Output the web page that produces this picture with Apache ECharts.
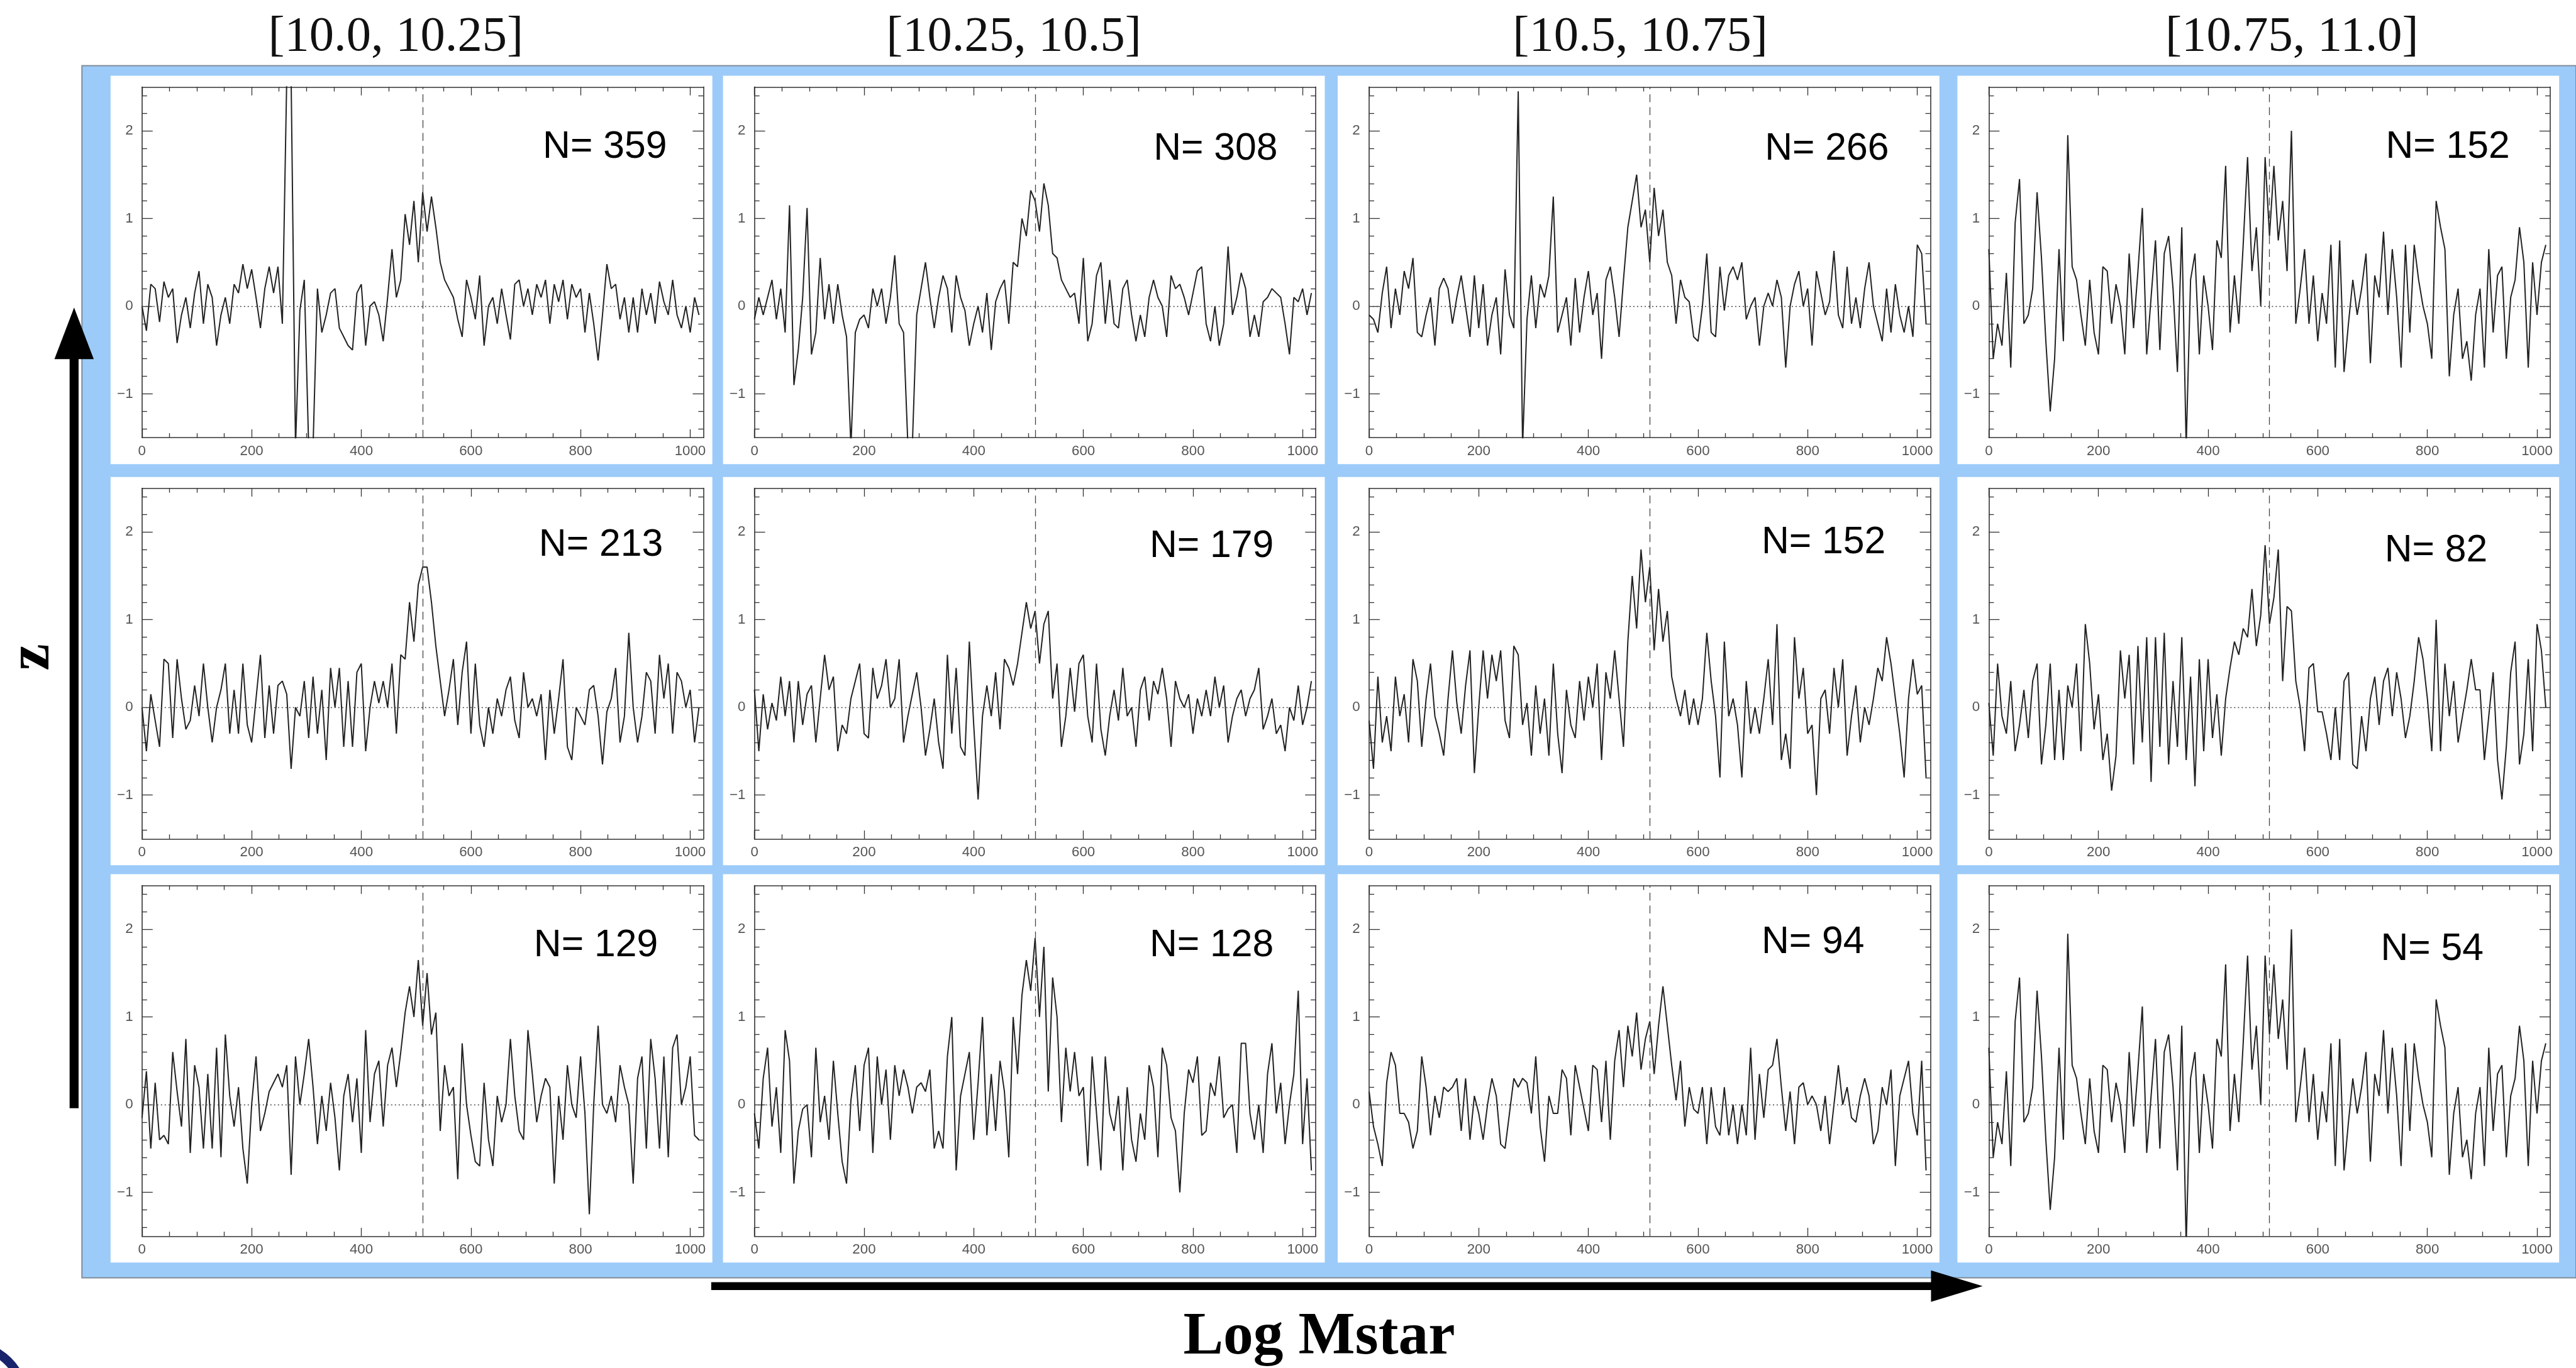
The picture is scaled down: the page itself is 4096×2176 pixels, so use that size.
<!DOCTYPE html>
<html>
<head>
<meta charset="utf-8">
<script src="https://cdn.jsdelivr.net/npm/echarts@6/dist/echarts.min.js"></script>
<style>
html,body{margin:0;padding:0;background:#ffffff;}
#chart{width:4096px;height:2176px;}
</style>
</head>
<body>
<div id="chart"></div>
<script>
// ---------------- data ----------------
const massBins = ['[10.0, 10.25]', '[10.25, 10.5]', '[10.5, 10.75]', '[10.75, 11.0]'];
const stackCounts = [[359, 308, 266, 152], [213, 179, 152, 82], [129, 128, 94, 54]];
const xTickValues = [0, 200, 400, 600, 800, 1000];
const xTickLabels = ['0', '200', '400', '600', '800', '1000'];
const yTickValues = [-1, 0, 1, 2];
const yTickLabels = ['\u22121', '0', '1', '2'];
const channelStep = 8;      // channel spacing of the sampled flux values
const lineCentre = 512;     // dashed reference channel

const spec_r1c1 = [
 0.0,-0.28,0.25,0.2,-0.18,0.28,0.1,0.2,-0.42,-0.1,0.1,-0.25,0.15,0.4,-0.2,0.25,
 0.1,-0.45,-0.1,0.1,-0.2,0.25,0.15,0.48,0.2,0.42,0.1,-0.25,0.2,0.45,0.15,0.45,
 -0.2,2.6,2.6,-1.6,-0.05,0.3,-1.6,-1.6,0.2,-0.3,-0.1,0.15,0.2,-0.25,-0.35,-0.45,
 -0.5,0.15,0.25,-0.45,0.0,0.05,-0.1,-0.4,0.1,0.65,0.1,0.3,1.05,0.7,1.2,0.5,
 1.3,0.85,1.25,0.9,0.5,0.3,0.2,0.1,-0.15,-0.35,0.3,0.1,-0.15,0.35,-0.45,0.0,
 0.1,-0.2,0.2,-0.1,-0.38,0.25,0.3,0.0,0.2,-0.1,0.25,0.1,0.3,-0.2,0.25,0.05,
 0.3,-0.15,0.25,0.1,0.2,-0.3,0.15,-0.2,-0.62,-0.1,0.48,0.2,0.25,-0.15,0.1,-0.3,
 0.1,-0.3,0.2,-0.1,0.15,-0.2,0.28,0.05,-0.1,0.3,-0.1,-0.25,0.0,-0.3,0.1,-0.1];
const spec_r1c2 = [
 -0.15,0.1,-0.1,0.1,0.3,-0.15,0.2,-0.3,1.15,-0.9,-0.5,0.1,1.12,-0.55,-0.3,0.55,
 -0.15,0.25,-0.2,0.25,-0.1,-0.35,-1.6,-0.3,-0.15,-0.1,-0.25,0.2,0.0,0.2,-0.2,0.1,
 0.58,-0.2,-0.3,-1.6,-1.6,-0.1,0.2,0.5,0.1,-0.25,0.1,0.35,0.2,-0.3,0.35,0.1,
 -0.05,-0.45,-0.2,0.0,-0.3,0.15,-0.5,0.05,0.2,0.3,-0.2,0.5,0.45,1.0,0.8,1.32,
 1.2,0.85,1.4,1.15,0.6,0.55,0.3,0.2,0.1,0.15,-0.2,0.55,-0.4,-0.2,0.35,0.5,
 -0.2,0.3,-0.2,-0.25,0.2,0.3,-0.1,-0.4,-0.1,-0.35,0.1,0.3,0.1,0.0,-0.35,0.35,
 0.2,0.25,0.1,-0.1,0.15,0.4,0.45,-0.2,-0.4,0.0,-0.45,-0.2,0.68,-0.1,0.1,0.38,
 0.2,-0.35,-0.1,-0.35,0.05,0.1,0.2,0.15,0.1,-0.2,-0.55,0.1,0.05,0.2,-0.1,0.15];
const spec_r1c3 = [
 -0.1,-0.15,-0.3,0.15,0.45,-0.25,0.2,-0.1,0.4,0.2,0.55,-0.3,-0.35,-0.1,0.1,-0.45,
 0.2,0.32,0.2,-0.2,0.1,0.35,0.0,-0.35,0.35,-0.25,0.25,-0.45,-0.1,0.1,-0.55,0.42,
 -0.1,-0.25,2.45,-1.6,-0.15,0.35,-0.25,0.25,0.1,0.35,1.25,-0.3,-0.1,0.1,-0.45,0.32,
 -0.3,0.1,0.4,-0.1,0.15,-0.6,0.3,0.45,0.1,-0.35,0.3,0.9,1.2,1.5,0.9,1.1,
 0.5,1.35,0.8,1.1,0.5,0.35,-0.2,0.3,0.1,0.05,-0.35,-0.4,0.0,0.6,-0.3,-0.35,
 0.45,-0.05,0.35,0.45,0.3,0.5,-0.15,0.0,0.1,-0.45,0.0,0.15,0.0,0.3,0.1,-0.7,
 0.0,0.25,0.4,0.0,0.2,-0.45,0.4,0.15,-0.1,0.05,0.63,-0.1,-0.25,0.45,-0.2,0.1,
 -0.25,0.2,0.5,0.0,-0.2,-0.4,0.2,-0.3,0.25,-0.1,-0.3,0.0,-0.35,0.7,0.6,-0.2];
const spec_r1c4 = [
 0.65,-0.6,-0.2,-0.45,0.38,-0.7,0.95,1.45,-0.2,-0.1,0.2,1.3,0.55,-0.4,-1.2,-0.6,
 0.65,-0.4,1.95,0.45,0.3,-0.1,-0.45,0.3,-0.3,-0.55,0.45,0.4,-0.2,0.25,0.0,-0.55,
 0.6,-0.25,0.4,1.12,-0.55,0.1,0.75,-0.5,0.6,0.8,0.2,-0.75,0.9,-1.6,0.3,0.6,
 -0.55,0.35,0.0,-0.5,0.75,0.55,1.6,-0.3,0.35,-0.2,0.7,1.7,0.4,0.9,0.0,1.7,
 0.8,1.6,0.75,1.2,0.4,2.0,-0.2,0.2,0.65,-0.2,0.35,-0.4,0.15,-0.2,0.7,-0.7,
 0.75,-0.75,-0.2,0.3,-0.1,0.2,0.6,-0.65,0.35,0.1,0.85,-0.1,0.65,0.1,-0.7,0.7,
 -0.3,0.7,0.3,0.0,-0.2,-0.6,1.2,0.9,0.65,-0.8,-0.1,0.2,-0.6,-0.4,-0.85,-0.1,
 0.2,-0.7,0.65,-0.3,0.35,0.45,-0.6,0.1,0.3,0.9,0.5,-0.7,0.5,-0.1,0.5,0.7];
const spec_r2c1 = [
 0.0,-0.5,0.15,-0.15,-0.45,0.55,0.5,-0.35,0.55,0.1,-0.25,-0.15,0.25,-0.1,0.5,0.0,
 -0.4,0.0,0.2,0.5,-0.3,0.2,-0.3,0.5,-0.2,-0.4,0.1,0.6,-0.35,0.25,-0.3,0.25,
 0.3,0.15,-0.7,0.0,-0.1,0.3,-0.35,0.35,-0.3,0.2,-0.6,0.45,0.0,0.45,-0.45,0.3,
 -0.45,0.4,0.5,-0.5,0.0,0.3,0.05,0.3,0.0,0.5,-0.3,0.6,0.55,1.2,0.75,1.4,
 1.6,1.6,1.2,0.7,0.3,-0.1,0.2,0.55,-0.2,0.4,0.75,-0.3,0.5,-0.2,-0.45,0.0,
 -0.3,0.1,-0.1,0.2,0.35,-0.15,-0.35,0.4,0.0,0.1,-0.1,0.15,-0.6,0.2,-0.3,0.1,
 0.55,-0.45,-0.6,0.0,-0.1,-0.2,0.2,0.25,-0.1,-0.65,-0.05,0.1,0.45,-0.4,-0.1,0.85,
 0.0,-0.4,-0.1,0.4,0.3,-0.3,0.6,0.1,0.5,-0.3,0.4,0.3,0.0,0.2,-0.4,0.0];
const spec_r2c2 = [
 0.2,-0.5,0.15,-0.25,0.05,-0.15,0.35,-0.1,0.3,-0.4,0.3,-0.2,0.15,0.25,-0.4,0.1,
 0.6,0.2,0.35,-0.5,-0.2,-0.3,0.1,0.3,0.5,-0.3,-0.35,0.45,0.1,0.25,0.55,0.0,
 0.1,0.55,-0.4,-0.1,0.15,0.4,0.0,-0.55,-0.25,0.1,-0.4,-0.7,0.6,-0.3,0.45,-0.45,
 -0.55,0.75,-0.2,-1.05,-0.1,0.25,-0.1,0.4,-0.25,0.55,0.45,0.25,0.5,0.85,1.2,0.9,
 1.1,0.5,0.95,1.1,0.1,0.5,-0.45,-0.1,0.45,-0.05,0.5,0.6,-0.1,-0.4,0.5,-0.25,
 -0.55,-0.1,0.2,-0.15,0.45,-0.1,0.0,-0.45,0.2,0.35,-0.15,0.3,0.15,0.45,0.1,-0.45,
 0.3,0.1,0.0,0.15,-0.3,0.1,-0.1,0.2,-0.1,0.35,0.0,0.25,-0.4,-0.1,0.1,0.2,
 -0.1,0.1,0.2,0.45,-0.25,-0.1,0.1,-0.3,-0.2,-0.5,0.0,-0.15,0.25,-0.2,0.0,0.3];
const spec_r2c3 = [
 -0.15,-0.7,0.35,-0.4,-0.1,-0.5,0.35,-0.1,0.15,-0.4,0.55,0.3,-0.45,0.1,0.5,-0.1,
 -0.3,-0.55,0.1,0.65,0.05,-0.3,0.25,0.65,-0.75,0.0,0.65,0.1,0.6,0.3,0.65,-0.15,
 -0.35,0.7,0.6,-0.2,0.05,-0.55,0.25,-0.3,0.1,-0.55,0.5,-0.3,-0.75,0.2,-0.2,-0.35,
 0.3,-0.15,0.35,0.0,0.5,-0.6,0.4,0.1,0.65,0.1,-0.45,0.75,1.5,0.9,1.8,1.2,
 1.6,0.65,1.35,0.75,1.1,0.35,0.1,-0.1,0.2,-0.2,0.1,-0.2,0.1,0.85,0.3,-0.1,
 -0.8,0.75,-0.1,0.1,-0.2,-0.8,0.3,-0.3,0.0,-0.3,0.1,0.55,-0.2,0.95,-0.6,-0.3,
 -0.7,0.8,0.1,0.45,-0.3,-0.2,-1.0,0.1,0.2,-0.3,0.45,0.0,0.55,-0.55,-0.1,0.25,
 -0.4,0.0,-0.2,0.1,0.45,0.3,0.8,0.5,0.1,-0.3,-0.8,0.1,0.55,0.15,0.25,-0.8];
const spec_r2c4 = [
 0.05,-0.55,0.5,-0.1,-0.3,0.3,-0.5,-0.2,0.2,-0.35,0.3,0.5,-0.65,-0.2,0.5,-0.6,
 0.2,-0.6,0.25,0.0,0.5,-0.5,0.95,0.5,-0.25,0.15,-0.6,-0.3,-0.95,-0.55,0.65,0.1,
 0.6,-0.65,0.7,-0.4,0.8,-0.85,0.8,-0.45,0.85,-0.65,0.3,-0.45,0.8,-0.6,0.35,-0.9,
 0.55,-0.5,0.55,-0.35,0.15,-0.55,0.1,0.45,0.75,0.6,0.9,0.8,1.35,0.7,1.05,1.85,
 0.95,1.25,1.8,0.3,1.15,1.1,0.3,0.0,-0.5,0.45,0.5,-0.05,-0.05,-0.3,-0.6,0.0,
 -0.6,0.3,0.4,-0.65,-0.7,-0.1,-0.5,0.1,0.35,-0.2,0.3,0.45,-0.1,0.4,0.1,-0.35,
 -0.1,0.3,0.8,0.55,0.1,-0.5,1.0,-0.5,0.5,-0.1,0.3,-0.4,-0.1,0.2,0.55,0.2,
 0.2,-0.6,-0.1,0.4,-0.6,-1.05,-0.45,0.4,0.75,-0.65,-0.3,0.55,-0.5,0.95,0.65,0.0];
const spec_r3c1 = [
 -0.15,0.38,-0.5,0.25,-0.4,-0.35,-0.45,0.6,0.15,-0.25,0.75,-0.55,0.45,0.2,-0.5,0.35,
 -0.5,0.65,-0.6,0.8,0.1,-0.25,0.2,-0.5,-0.9,0.0,0.55,-0.3,-0.1,0.15,0.25,0.35,
 0.2,0.45,-0.8,0.55,0.0,0.35,0.75,0.2,-0.45,0.1,-0.3,0.25,-0.15,-0.75,0.1,0.35,
 -0.2,0.3,-0.55,0.85,-0.2,0.35,0.5,-0.25,0.45,0.65,0.2,0.6,1.05,1.35,1.0,1.65,
 0.9,1.5,0.8,1.05,-0.3,0.45,0.1,0.2,-0.85,0.7,0.0,-0.35,-0.65,-0.7,0.25,-0.4,
 -0.7,0.1,-0.2,0.0,0.75,0.1,-0.3,-0.4,0.85,0.35,-0.2,0.1,0.3,0.2,-0.9,0.1,
 -0.4,0.45,0.0,-0.15,0.55,-0.1,-1.25,0.0,0.9,0.0,-0.1,0.1,-0.2,0.45,0.2,0.0,
 -0.9,0.3,0.55,-0.5,0.75,0.3,-0.5,0.55,-0.6,0.65,0.8,0.0,0.2,0.55,-0.35,-0.4];
const spec_r3c2 = [
 -0.1,-0.5,0.3,0.65,-0.25,0.2,-0.55,0.85,0.5,-0.9,-0.3,-0.05,0.0,-0.6,0.65,-0.2,
 0.1,-0.4,0.5,-0.1,-0.65,-0.9,0.05,0.45,-0.3,0.45,0.65,-0.55,0.55,0.0,0.4,-0.4,
 0.45,0.1,0.4,0.2,-0.1,0.2,0.25,0.15,0.4,-0.5,-0.3,-0.5,0.55,1.0,-0.75,0.1,
 0.35,0.6,-0.4,0.25,1.0,-0.35,0.35,-0.3,0.5,0.15,-0.6,1.0,0.35,1.25,1.65,1.3,
 1.9,1.0,1.8,0.15,1.45,1.0,-0.2,0.65,0.15,0.6,0.1,0.2,-0.7,0.55,-0.1,-0.75,
 0.55,-0.1,-0.3,0.1,-0.75,0.2,-0.4,-0.65,-0.1,-0.4,0.45,0.2,-0.6,0.65,0.45,-0.15,
 -0.3,-1.0,-0.1,0.4,0.25,0.55,-0.35,-0.3,0.25,0.1,0.55,-0.15,-0.05,0.0,-0.55,0.7,
 0.7,-0.1,-0.4,0.0,-0.55,0.35,0.7,-0.1,0.25,-0.45,0.0,0.35,1.3,-0.45,0.3,-0.75];
const spec_r3c3 = [
 0.15,-0.25,-0.45,-0.7,0.25,0.6,0.45,-0.1,-0.1,-0.2,-0.5,-0.3,0.55,0.2,-0.35,0.1,
 -0.15,0.2,0.15,0.2,0.3,-0.3,0.3,-0.4,0.1,-0.1,-0.4,0.0,0.3,0.1,-0.45,-0.5,
 -0.1,0.3,0.2,0.3,0.25,-0.1,0.55,-0.25,-0.65,0.1,-0.1,-0.1,0.4,0.3,-0.35,0.45,
 0.2,-0.05,-0.3,0.45,0.4,-0.2,0.5,-0.4,0.5,0.85,0.2,0.9,0.55,1.05,0.4,0.75,
 0.95,0.35,0.9,1.35,0.9,0.45,0.05,0.5,-0.25,0.2,-0.05,-0.1,0.2,-0.45,0.2,-0.25,
 -0.35,0.2,-0.35,0.0,-0.45,0.0,-0.35,0.65,-0.4,0.35,-0.15,0.4,0.45,0.75,0.2,-0.3,
 0.15,-0.45,0.2,0.25,0.0,0.1,0.0,-0.3,0.1,-0.45,0.0,0.45,0.0,0.2,-0.15,-0.2,
 0.1,0.3,0.1,-0.45,-0.3,0.2,0.0,0.4,-0.7,0.1,0.3,0.5,-0.1,-0.35,0.5,-0.75];
const spec_r3c4 = [
 0.65,-0.6,-0.2,-0.45,0.38,-0.7,0.95,1.45,-0.2,-0.1,0.2,1.3,0.55,-0.4,-1.2,-0.6,
 0.65,-0.4,1.95,0.45,0.3,-0.1,-0.45,0.3,-0.3,-0.55,0.45,0.4,-0.2,0.25,0.0,-0.55,
 0.6,-0.25,0.4,1.12,-0.55,0.1,0.75,-0.5,0.6,0.8,0.2,-0.75,0.9,-1.6,0.3,0.6,
 -0.55,0.35,0.0,-0.5,0.75,0.55,1.6,-0.3,0.35,-0.2,0.7,1.7,0.4,0.9,0.0,1.7,
 0.8,1.6,0.75,1.2,0.4,2.0,-0.2,0.2,0.65,-0.2,0.35,-0.4,0.15,-0.2,0.7,-0.7,
 0.75,-0.75,-0.2,0.3,-0.1,0.2,0.6,-0.65,0.35,0.1,0.85,-0.1,0.65,0.1,-0.7,0.7,
 -0.3,0.7,0.3,0.0,-0.2,-0.6,1.2,0.9,0.65,-0.8,-0.1,0.2,-0.6,-0.4,-0.85,-0.1,
 0.2,-0.7,0.65,-0.3,0.35,0.45,-0.6,0.1,0.3,0.9,0.5,-0.7,0.5,-0.1,0.5,0.7];

const spectra = [
  [spec_r1c1, spec_r1c2, spec_r1c3, spec_r1c4],
  [spec_r2c1, spec_r2c2, spec_r2c3, spec_r2c4],
  [spec_r3c1, spec_r3c2, spec_r3c3, spec_r3c4]
];

// ---------------- layout (reference pixels, scaled by S) ----------------
const S = 4096 / 4589;
const P = v => v * S;
const colLeft = [197, 1288, 2383, 3487];
const rowTop = [135, 850, 1558];
const boxW = 1072, boxH = 692;
const plotDx = 56, plotDy = 20, plotW = 1000, plotH = 625;
const nLabelPos = [
  [[967, 263], [2055, 266], [3144, 266], [4250, 263]],
  [[960, 972], [2048, 974], [3138, 967], [4248, 982]],
  [[951, 1685], [2048, 1685], [3138, 1680], [4241, 1692]]
];
const headerX = [705, 1806, 2922, 4083];

const X_MIN = 0, X_MAX = 1024, Y_MIN = -1.5, Y_MAX = 2.5;
const xMinor = [], yMinor = [];
for (let v = 50; v < X_MAX; v += 50) if (v % 200 !== 0) xMinor.push(v);
for (let k = -7; k <= 12; k++) { if (k % 5 !== 0) yMinor.push(+(k * 0.2).toFixed(1)); }

const axisColor = '#333333';
const tickFont = { fontFamily: 'Liberation Sans, Arial, sans-serif', fontSize: P(25), color: '#555555' };

const grids = [], xAxes = [], yAxes = [], series = [], graphics = [];

// blue backdrop
graphics.push({ type: 'rect', z: -20, shape: { x: P(146), y: P(117), width: P(4589 - 146), height: P(2277 - 117) },
  style: { fill: '#9ccbf9', stroke: '#7f8c99', lineWidth: 2 } });

function xAxisDef(g, pos, values, len, labels, line) {
  return {
    type: 'value', gridIndex: g, position: pos, min: X_MIN, max: X_MAX,
    splitLine: { show: false }, minorTick: { show: false },
    axisLine: { show: line, onZero: false, lineStyle: { color: axisColor, width: 1.6 } },
    axisTick: { show: true, inside: true, length: P(len), customValues: values, lineStyle: { color: axisColor, width: 1.3 } },
    axisLabel: labels ? Object.assign({ show: true, customValues: xTickValues, margin: P(12),
      formatter: v => xTickLabels[xTickValues.indexOf(Math.round(v))] }, tickFont) : { show: false },
    silent: true
  };
}
function yAxisDef(g, pos, values, len, labels, line) {
  return {
    type: 'value', gridIndex: g, position: pos, min: Y_MIN, max: Y_MAX,
    splitLine: { show: false }, minorTick: { show: false },
    axisLine: { show: line, onZero: false, lineStyle: { color: axisColor, width: 1.6 } },
    axisTick: { show: true, inside: true, length: P(len), customValues: values, lineStyle: { color: axisColor, width: 1.3 } },
    axisLabel: labels ? Object.assign({ show: true, customValues: yTickValues, margin: P(16),
      formatter: v => yTickLabels[yTickValues.indexOf(Math.round(v))] }, tickFont) : { show: false },
    silent: true
  };
}

let g = 0;
for (let r = 0; r < 3; r++) {
  for (let c = 0; c < 4; c++) {
    const bx = colLeft[c], by = rowTop[r];
    graphics.push({ type: 'rect', z: -10, shape: { x: P(bx), y: P(by), width: P(boxW), height: P(boxH) },
      style: { fill: '#ffffff' } });
    grids.push({ left: P(bx + plotDx), top: P(by + plotDy), width: P(plotW), height: P(plotH), containLabel: false });

    xAxes.push(xAxisDef(g, 'bottom', xTickValues, 15, true, true));
    xAxes.push(xAxisDef(g, 'bottom', xMinor, 8, false, false));
    xAxes.push(xAxisDef(g, 'top', xTickValues, 15, false, true));
    xAxes.push(xAxisDef(g, 'top', xMinor, 8, false, false));
    yAxes.push(yAxisDef(g, 'left', yTickValues, 19, true, true));
    yAxes.push(yAxisDef(g, 'left', yMinor, 9, false, false));
    yAxes.push(yAxisDef(g, 'right', yTickValues, 19, false, true));
    yAxes.push(yAxisDef(g, 'right', yMinor, 9, false, false));

    const vals = spectra[r][c];
    series.push({
      type: 'line', xAxisIndex: 4 * g, yAxisIndex: 4 * g,
      data: vals.map((v, i) => [i * channelStep, v]),
      showSymbol: false, symbol: 'none', clip: true, smooth: false,
      lineStyle: { color: '#222222', width: 2 },
      markLine: {
        silent: true, symbol: ['none', 'none'], label: { show: false },
        data: [
          { xAxis: lineCentre, lineStyle: { color: '#444444', width: 1.3, type: [P(14), P(9)] } },
          { yAxis: 0, lineStyle: { color: '#444444', width: 1.3, type: [2, 4] } }
        ]
      }
    });

    const np = nLabelPos[r][c];
    graphics.push({ type: 'text', z: 10, style: { text: 'N= ' + stackCounts[r][c], x: P(np[0]), y: P(np[1]),
      fill: '#000000', font: `${P(68)}px "Liberation Sans", Arial, sans-serif`, align: 'left', verticalAlign: 'middle' } });
    g++;
  }
}

// column headers (stellar-mass bins)
for (let c = 0; c < 4; c++) {
  graphics.push({ type: 'text', z: 10, style: { text: massBins[c], x: P(headerX[c]), y: P(67),
    fill: '#111111', font: `${P(88)}px "Liberation Serif", "Times New Roman", serif`, align: 'center', verticalAlign: 'middle' } });
}

// axis arrows
graphics.push({ type: 'rect', z: 5, shape: { x: P(124), y: P(620), width: P(16), height: P(1975 - 620) }, style: { fill: '#000' } });
graphics.push({ type: 'polygon', z: 5, shape: { points: [[P(132), P(548)], [P(97), P(640)], [P(167), P(640)]] }, style: { fill: '#000' } });
graphics.push({ type: 'rect', z: 5, shape: { x: P(1267), y: P(2285), width: P(3450 - 1267), height: P(14) }, style: { fill: '#000' } });
graphics.push({ type: 'polygon', z: 5, shape: { points: [[P(3532), P(2292)], [P(3440), P(2264)], [P(3440), P(2320)]] }, style: { fill: '#000' } });

// axis titles
graphics.push({ type: 'text', z: 10, rotation: Math.PI / 2, x: P(59), y: P(1171),
  style: { text: 'z', x: 0, y: 0, fill: '#000', font: `bold ${P(107)}px "Liberation Serif", "Times New Roman", serif`, align: 'center', verticalAlign: 'middle' } });
graphics.push({ type: 'text', z: 10, style: { text: 'Log Mstar', x: P(2350), y: P(2385), fill: '#000',
  font: `bold ${P(107)}px "Liberation Serif", "Times New Roman", serif`, align: 'center', verticalAlign: 'middle' } });

// corner emblem fragment
graphics.push({ type: 'circle', z: 5, shape: { cx: P(-60), cy: P(2500), r: P(105) }, style: { fill: 'none', stroke: '#17246b', lineWidth: P(16) } });

const chart = echarts.init(document.getElementById('chart'), null, { renderer: 'canvas' });
chart.setOption({
  animation: false,
  backgroundColor: '#ffffff',
  grid: grids,
  xAxis: xAxes,
  yAxis: yAxes,
  series: series,
  graphic: { elements: graphics }
});
</script>
</body>
</html>
